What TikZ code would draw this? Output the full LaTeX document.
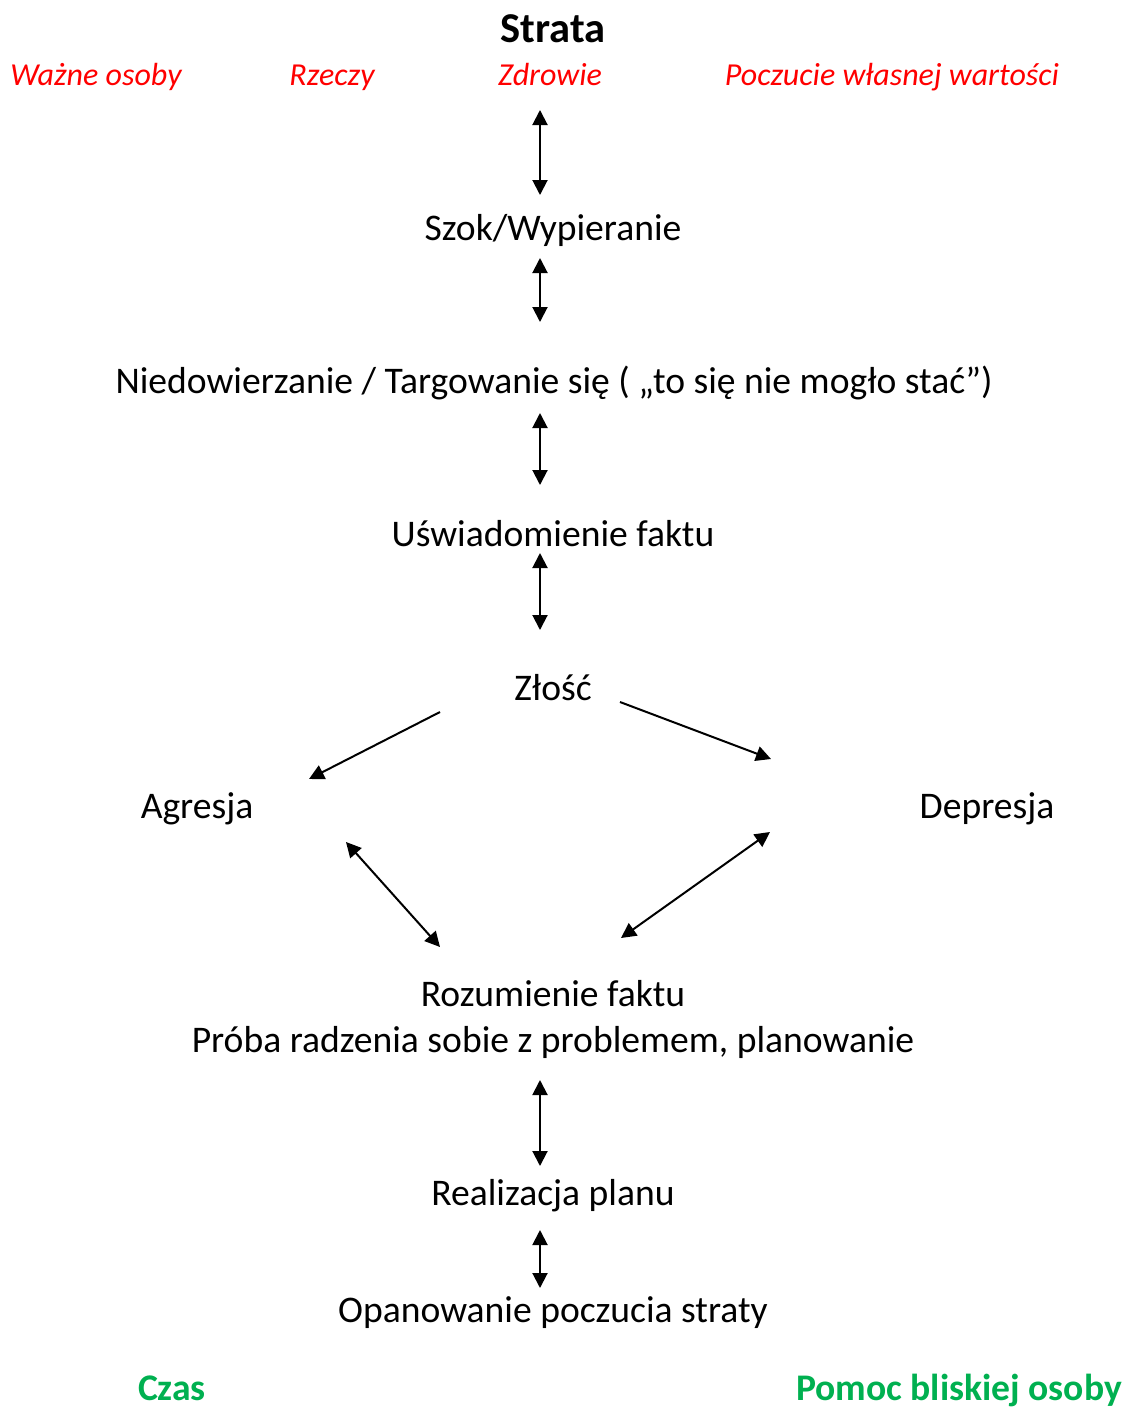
\documentclass[tikz,border=0pt]{standalone}
\usepackage{fontspec}
\setmainfont{Carlito}
\usetikzlibrary{arrows.meta}
\definecolor{myred}{RGB}{255,0,0}
\definecolor{mygreen}{RGB}{0,176,80}
\begin{document}
\begin{tikzpicture}[x=1pt,y=-1pt,
  txt/.style={inner sep=0pt,anchor=base,font=\fontsize{37.6}{44}\selectfont},
  red/.style={inner sep=0pt,anchor=base,text=myred,font=\fontsize{32}{38}\selectfont\itshape},
  grn/.style={inner sep=0pt,anchor=base,text=mygreen,font=\fontsize{37.6}{45}\selectfont\bfseries},
  arr/.style={line width=2pt,-{Triangle[length=15pt,width=15pt]}},
  darr/.style={line width=2pt,{Triangle[length=15pt,width=15pt]}-{Triangle[length=15pt,width=15pt]}}]
\useasboundingbox (0,0) rectangle (1124,1408);
\node[inner sep=0pt,anchor=base,font=\fontsize{42.5}{50}\selectfont\bfseries] (strata) at (553,42) {Strata};
\node[red] (osoby) at (96,85) {Ważne osoby};
\node[red] (rzeczy) at (332,85) {Rzeczy};
\node[red] (zdrowie) at (550,85) {Zdrowie};
\node[red] (poczucie) at (892,85) {Poczucie własnej wartości};
\node[txt] (szok) at (553,240) {Szok/Wypieranie};
\node[txt] (niedow) at (554,393) {Niedowierzanie / Targowanie się ( „to się nie mogło stać”)};
\node[txt] (usw) at (553,546) {Uświadomienie faktu};
\node[txt] (zlosc) at (553,700) {Złość};
\node[txt] (agresja) at (197,818) {Agresja};
\node[txt] (depresja) at (987,818) {Depresja};
\node[txt] (rozum) at (553,1006) {Rozumienie faktu};
\node[txt] (proba) at (553,1052) {Próba radzenia sobie z problemem, planowanie};
\node[txt] (real) at (553,1205) {Realizacja planu};
\node[txt] (opan) at (553,1322) {Opanowanie poczucia straty};
\node[grn] (czas) at (172,1400) {Czas};
\node[grn] (pomoc) at (959,1400) {Pomoc bliskiej osoby};
% arrow endpoints
\coordinate (a1) at (540,110); \coordinate (b1) at (540,195);
\coordinate (a2) at (540,258); \coordinate (b2) at (540,322);
\coordinate (a3) at (540,413); \coordinate (b3) at (540,485);
\coordinate (a4) at (540,553); \coordinate (b4) at (540,630);
\coordinate (a5) at (540,1080); \coordinate (b5) at (540,1166);
\coordinate (a6) at (540,1230); \coordinate (b6) at (540,1288);
\coordinate (zl) at (440,712); \coordinate (ag) at (309,779);
\coordinate (zr) at (620,702); \coordinate (de) at (771,759);
\coordinate (ag2) at (346,842); \coordinate (ro1) at (440,947);
\coordinate (de2) at (770,832); \coordinate (ro2) at (621,938);
\draw[darr] (a1) -- (b1);
\draw[darr] (a2) -- (b2);
\draw[darr] (a3) -- (b3);
\draw[darr] (a4) -- (b4);
\draw[darr] (a5) -- (b5);
\draw[darr] (a6) -- (b6);
\draw[arr] (zl) -- (ag);
\draw[arr] (zr) -- (de);
\draw[darr] (ag2) -- (ro1);
\draw[darr] (de2) -- (ro2);
\end{tikzpicture}
\end{document}
